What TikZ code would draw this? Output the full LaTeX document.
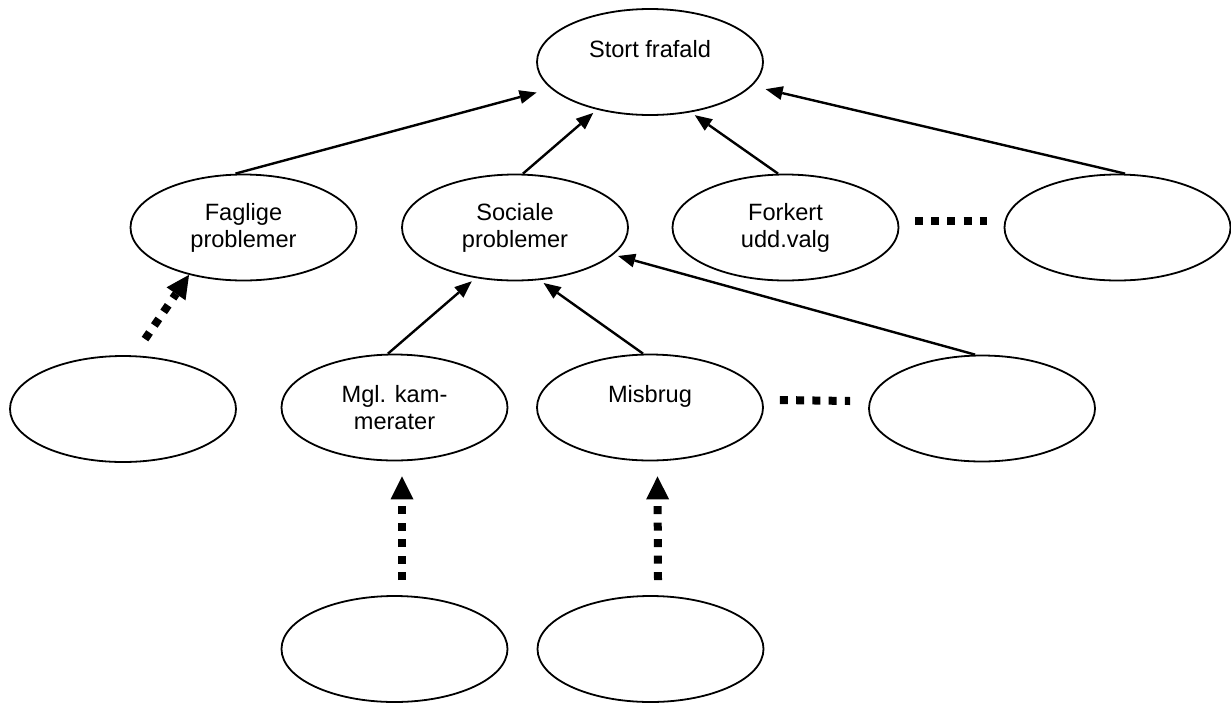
\documentclass[tikz,border=0pt]{standalone}
\usepackage{fontspec}
\setmainfont{Liberation Sans}
\usetikzlibrary{arrows.meta,shapes.geometric}

\begin{document}
\begin{tikzpicture}[x=1pt,y=-1pt,font=\fontsize{23.6}{27}\selectfont,
  cause/.style={ellipse,draw,line width=1.8pt,minimum width=226pt,
                minimum height=106pt,inner sep=0pt,align=center},
  arr/.style={line width=2.4pt,shorten >=5pt,
              -{Triangle[length=17pt,width=14pt,line width=0pt]}},
  dotarr/.style={line width=8pt,dash pattern=on 8pt off 8.5pt,
                 -{Triangle[length=23pt,width=23pt,line width=0pt]}},
  dots/.style={line width=8pt,dash pattern=on 8pt off 8.25pt}]
\path[use as bounding box,fill=white] (0,0) rectangle (1231,702);

% top
\node[cause] (stort) at (650,62) {Stort frafald\\\mbox{}};

% second row
\node[cause] (fag)  at (243.5,227.5) {Faglige\\problemer};
\node[cause] (soc)  at (515,227.5)   {Sociale\\problemer};
\node[cause] (fork) at (785.5,227.5) {Forkert\\udd.valg};
\node[cause] (r2)   at (1117.5,227.5) {};

% third row
\node[cause] (r3a) at (123,409)     {};
\node[cause] (mgl) at (394.5,407.5) {Mgl. kam-\\merater};
\node[cause] (mis) at (650,407.5)   {Misbrug\\\mbox{}};
\node[cause] (r3b) at (982,408.5)   {};

% bottom row
\node[cause] (r4a) at (394.5,649) {};
\node[cause] (r4b) at (650.5,649) {};

% causes -> effect
\draw[arr,shorten >=15pt] ([xshift=-8pt]fag.north) -- (stort);
\draw[arr] ([xshift=8pt]soc.north) -- (stort.222);
\draw[arr] ([xshift=-7.5pt]fork.north) -- (stort.309);
\draw[arr,shorten >=14pt] ([xshift=7.5pt]r2.north) -- (stort);
\draw[arr] ([xshift=-6.5pt]mgl.north) -- (soc.232);
\draw[arr] ([xshift=-7pt]mis.north) -- (soc.295);
\draw[arr] ([xshift=-7pt]r3b.north) -- (soc);

% unknown causes
\draw[dotarr] ([xshift=22pt,yshift=16pt]r3a.north) -- (fag.221);
\draw[dotarr] ([xshift=7.5pt,yshift=15pt]r4a.north) -- ([xshift=7.5pt,yshift=-15pt]mgl.south);
\draw[dotarr] ([xshift=7.5pt,yshift=15pt]r4b.north) -- ([xshift=7.5pt,yshift=-15pt]mis.south);

% and so on
\draw[dots] ([xshift=15.5pt,yshift=7pt]fork.east) -- ([xshift=-17pt,yshift=7pt]r2.west);
\draw[dots] ([xshift=16pt,yshift=7.5pt]mis.east) -- ([xshift=-18pt,yshift=7.5pt]r3b.west);
\end{tikzpicture}
\end{document}
